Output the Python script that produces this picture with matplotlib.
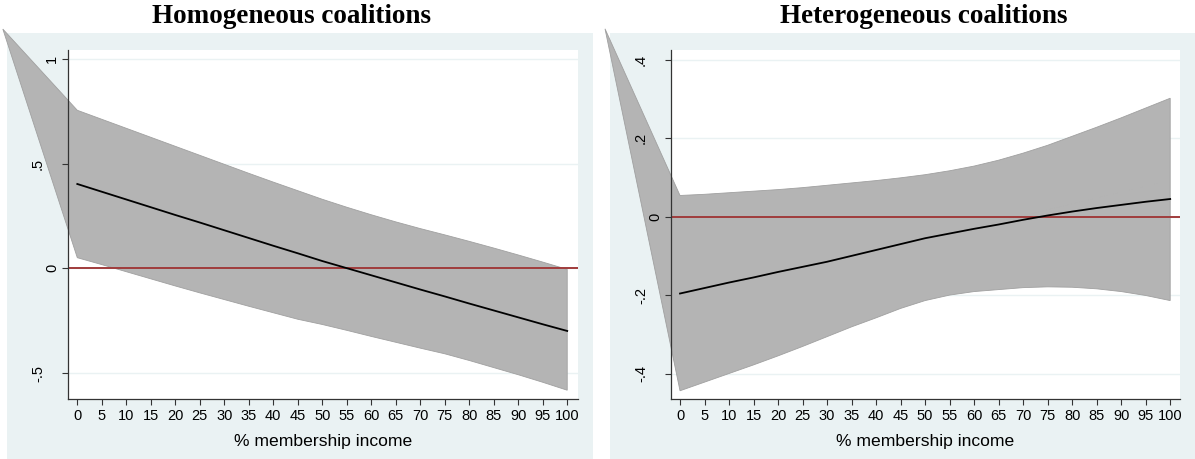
import matplotlib
matplotlib.use("Agg")
import matplotlib.pyplot as plt
from matplotlib.patches import Rectangle, Polygon
from matplotlib.transforms import blended_transform_factory, ScaledTranslation

# ---------------- data ----------------
x_vals = [0, 5, 10, 15, 20, 25, 30, 35, 40, 45, 50, 55, 60, 65, 70, 75, 80, 85, 90, 95, 100]

homo_mean = [0.403, 0.366, 0.329, 0.292, 0.255, 0.219, 0.182, 0.145, 0.108, 0.072, 0.035,
             0.001, -0.033, -0.067, -0.101, -0.134, -0.168, -0.201, -0.234, -0.267, -0.299]
homo_upper = [0.755, 0.712, 0.669, 0.626, 0.583, 0.540, 0.497, 0.454, 0.412, 0.371, 0.330,
              0.292, 0.256, 0.222, 0.190, 0.160, 0.129, 0.097, 0.064, 0.030, -0.005]
homo_lower = [0.051, 0.018, -0.016, -0.050, -0.084, -0.117, -0.149, -0.181, -0.212, -0.243, -0.268,
              -0.296, -0.325, -0.353, -0.381, -0.408, -0.440, -0.474, -0.508, -0.544, -0.582]
homo_artifact = (-15.2, 1.143)

hetero_mean = [-0.196, -0.182, -0.168, -0.155, -0.141, -0.128, -0.115, -0.100, -0.085, -0.070, -0.055,
               -0.043, -0.031, -0.020, -0.008, 0.003, 0.013, 0.022, 0.030, 0.038, 0.045]
hetero_upper = [0.054, 0.057, 0.061, 0.065, 0.069, 0.074, 0.080, 0.086, 0.092, 0.099, 0.107,
                0.117, 0.129, 0.144, 0.162, 0.182, 0.205, 0.228, 0.252, 0.277, 0.302]
hetero_lower = [-0.444, -0.422, -0.400, -0.378, -0.355, -0.331, -0.306, -0.281, -0.258, -0.234, -0.214,
                -0.200, -0.191, -0.186, -0.181, -0.179, -0.180, -0.184, -0.191, -0.201, -0.214]
hetero_artifact = (-15.3, 0.479)

homo_yticks = [-0.5, 0, 0.5, 1]
homo_ylabels = ["-.5", "0", ".5", "1"]
hetero_yticks = [-0.4, -0.2, 0, 0.2, 0.4]
hetero_ylabels = ["-.4", "-.2", "0", ".2", ".4"]
xticks = list(range(0, 101, 5))
xticklabels = [str(v) for v in xticks]

titles = ["Homogeneous coalitions", "Heterogeneous coalitions"]
xlabel = "% membership income"

# ---------------- style / layout ----------------
W, H = 1195, 459
DPI = 100
BG = "#EAF2F3"
GRID = "#EAF2F3"
BAND = "#B4B4B4"
BAND_EDGE = "#A0A0A0"
REF = "#A03C3C"
AXC = "#333333"

fig = plt.figure(figsize=(W / DPI, H / DPI), dpi=DPI, facecolor="white")

def fx(px):
    return px / W

def fy(py):
    return 1 - py / H

# panel background regions (px)
for (l, r) in [(7, 593), (610, 1195)]:
    rect = Rectangle((fx(l), 0), fx(r) - fx(l), fy(33), transform=fig.transFigure,
                     facecolor=BG, edgecolor="none", zorder=-10)
    fig.add_artist(rect)

panels = [
    dict(box=(68, 578, 50, 399), xlim=(-1.9, 102.2), ylim=(-0.624, 1.043),
         mean=homo_mean, up=homo_upper, lo=homo_lower, art=homo_artifact,
         yt=homo_yticks, yl=homo_ylabels, title=titles[0], title_x=151.7),
    dict(box=(671, 1180, 50, 399), xlim=(-1.84, 102.0), ylim=(-0.465, 0.425),
         mean=hetero_mean, up=hetero_upper, lo=hetero_lower, art=hetero_artifact,
         yt=hetero_yticks, yl=hetero_ylabels, title=titles[1], title_x=780),
]

for p in panels:
    l, r, t, b = p["box"]
    ax = fig.add_axes([fx(l), fy(b), fx(r) - fx(l), fy(t) - fy(b)])
    ax.set_facecolor("white")
    ax.set_xlim(*p["xlim"])
    ax.set_ylim(*p["ylim"])

    # gridlines
    for v in p["yt"]:
        ax.axhline(v, color=GRID, lw=1.0, zorder=0.5)

    # band polygon (including the odd stray vertex)
    xs = [p["art"][0]] + x_vals + x_vals[::-1]
    ys = [p["art"][1]] + p["up"] + p["lo"][::-1]
    poly = Polygon(list(zip(xs, ys)), closed=True, facecolor=BAND, edgecolor=BAND_EDGE,
                   lw=0.6, zorder=1, clip_on=False)
    ax.add_patch(poly)

    ax.axhline(0, color=REF, lw=1.4, zorder=2)
    ax.plot(x_vals, p["mean"], color="black", lw=1.3, zorder=3)

    for s in ["top", "right"]:
        ax.spines[s].set_visible(False)
    for s in ["left", "bottom"]:
        ax.spines[s].set_color(AXC)
        ax.spines[s].set_linewidth(0.9)
        ax.spines[s].set_zorder(4)

    ax.set_xticks(xticks, xticklabels, fontsize=10.5, fontfamily="Liberation Sans")
    ax.tick_params(axis="x", direction="out", length=4.3, width=0.8, color=AXC, pad=3)
    ax.set_yticks(p["yt"], [""] * len(p["yt"]))
    ax.tick_params(axis="y", direction="out", length=4.3, width=0.8, color=AXC)

    btf = blended_transform_factory(ax.transAxes, ax.transData)
    for v, lab in zip(p["yt"], p["yl"]):
        off = -30 if "." in lab else -16
        tr = btf + ScaledTranslation(off / DPI, 0, fig.dpi_scale_trans)
        ax.text(0, v, lab, transform=tr, rotation=90, ha="center", va="center",
                fontsize=10.5, fontfamily="Liberation Sans", color="black")

    ax.set_xlabel(xlabel, fontsize=12.6, fontfamily="Liberation Sans")
    ax.xaxis.set_label_coords(0.5, -0.1)

    fig.text(fx(p["title_x"]), fy(23), p["title"], ha="left", va="baseline",
             fontsize=19.5, fontweight="bold", fontfamily="Liberation Serif")

fig.savefig("out.png", dpi=DPI, facecolor="white")
